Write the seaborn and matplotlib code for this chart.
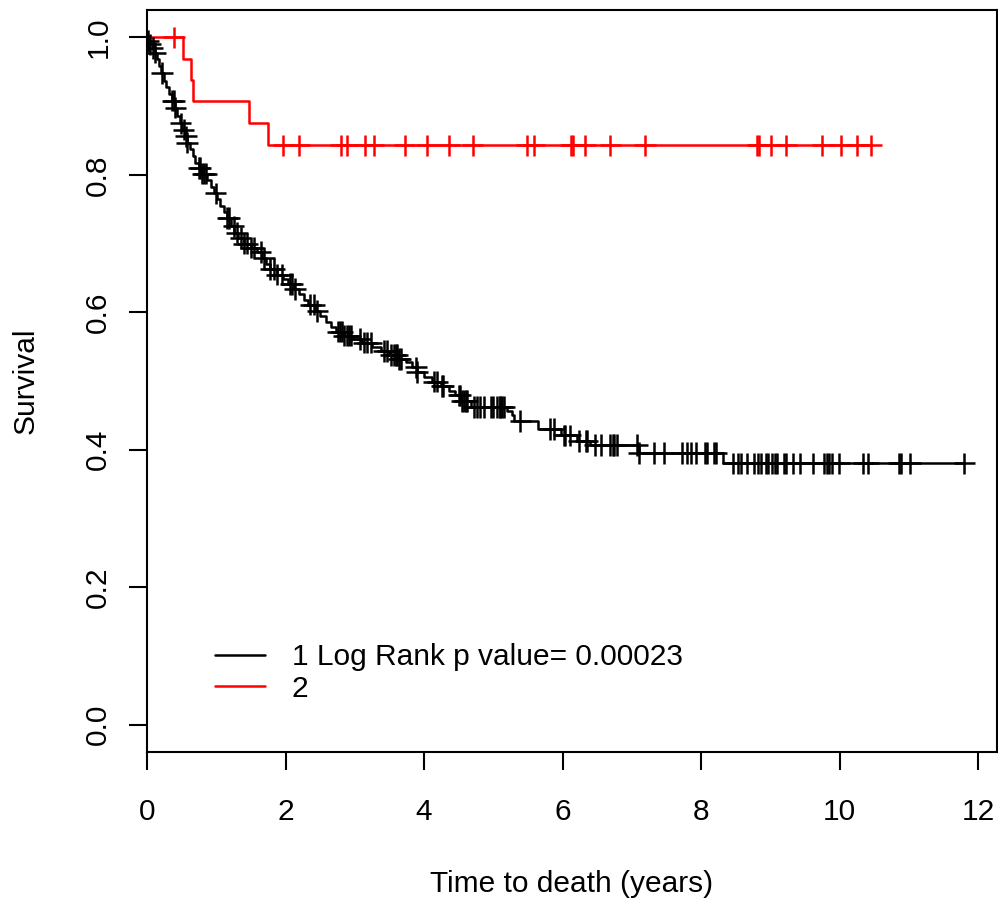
import numpy as np
import pandas as pd
import matplotlib
matplotlib.use("Agg")
import matplotlib.pyplot as plt
import seaborn as sns

# ---------------- data ----------------
black_time = [0.00, 0.02, 0.05, 0.08, 0.11, 0.14, 0.17, 0.20, 0.24, 0.28, 0.32, 0.36,
              0.40, 0.44, 0.48, 0.51, 0.55, 0.58, 0.62, 0.66, 0.70, 0.75, 0.80, 0.86,
              0.92, 0.97, 1.01, 1.06, 1.11, 1.16, 1.21, 1.26, 1.32, 1.40, 1.50, 1.59,
              1.66, 1.72, 1.78, 1.87, 1.96, 2.04, 2.12, 2.20, 2.27, 2.33, 2.42, 2.50,
              2.58, 2.65, 2.73, 2.84, 2.98, 3.10, 3.25, 3.38, 3.50, 3.62, 3.74, 3.82,
              3.90, 4.00, 4.12, 4.24, 4.36, 4.45, 4.53, 4.67, 5.20, 5.27, 5.30, 5.64,
              5.97, 6.21, 6.40, 7.10, 8.32, 11.80]
black_surv = [1.000, 0.995, 0.990, 0.985, 0.978, 0.968, 0.958, 0.948, 0.937, 0.928, 0.918, 0.908,
              0.898, 0.886, 0.875, 0.866, 0.856, 0.847, 0.837, 0.827, 0.818, 0.810, 0.802, 0.793,
              0.783, 0.773, 0.765, 0.755, 0.746, 0.737, 0.725, 0.716, 0.708, 0.700, 0.694, 0.688,
              0.679, 0.670, 0.663, 0.655, 0.648, 0.641, 0.634, 0.626, 0.618, 0.611, 0.602, 0.594,
              0.586, 0.579, 0.572, 0.566, 0.561, 0.556, 0.550, 0.544, 0.538, 0.532, 0.527, 0.520,
              0.513, 0.506, 0.499, 0.493, 0.486, 0.479, 0.471, 0.462, 0.456, 0.450, 0.442, 0.430,
              0.421, 0.413, 0.407, 0.395, 0.380, 0.380]
black_censor = [0.02, 0.05, 0.08, 0.12, 0.22, 0.365, 0.39, 0.41, 0.485, 0.53, 0.56, 0.58,
                0.75, 0.77, 0.80, 0.82, 0.85, 0.99, 1.16, 1.18, 1.25, 1.30, 1.35, 1.40,
                1.45, 1.50, 1.54, 1.64, 1.69, 1.78, 1.83, 1.88, 1.95, 2.07, 2.095, 2.14,
                2.36, 2.41, 2.46, 2.75, 2.79, 2.82, 2.84, 2.89, 2.91, 2.94, 3.08, 3.13,
                3.18, 3.23, 3.42, 3.47, 3.52, 3.56, 3.59, 3.61, 3.64, 3.66, 3.88, 3.90,
                4.14, 4.19, 4.26, 4.275, 4.50, 4.52, 4.55, 4.57, 4.60, 4.62, 4.72, 4.77,
                4.81, 4.86, 4.96, 4.99, 5.05, 5.09, 5.10, 5.13, 5.15, 5.39, 5.82, 5.87,
                6.02, 6.04, 6.11, 6.23, 6.33, 6.35, 6.47, 6.55, 6.69, 6.72, 6.74, 6.79,
                7.07, 7.10, 7.32, 7.46, 7.72, 7.80, 7.86, 7.92, 8.05, 8.09, 8.18, 8.21,
                8.46, 8.53, 8.58, 8.66, 8.76, 8.82, 8.87, 8.93, 8.97, 9.02, 9.06, 9.10,
                9.20, 9.23, 9.33, 9.42, 9.62, 9.77, 9.81, 9.84, 9.89, 9.99, 10.34, 10.41,
                10.85, 10.88, 11.02, 11.80]

red_time = [0.00, 0.52, 0.64, 0.66, 1.47, 1.74, 10.45]
red_surv = [1.000, 0.968, 0.938, 0.907, 0.875, 0.843, 0.843]
red_censor = [0.39, 1.97, 2.20, 2.80, 2.89, 3.15, 3.27, 3.72, 4.04, 4.36, 4.70, 5.48,
              5.59, 6.12, 6.15, 6.32, 6.69, 7.19, 8.81, 8.83, 9.01, 9.23, 9.75, 10.02,
              10.25, 10.45]

group_labels = ["1 Log Rank p value= 0.00023", "2"]
group_colors = ["black", "red"]
x_ticks = [0, 2, 4, 6, 8, 10, 12]
y_ticks = [0.0, 0.2, 0.4, 0.6, 0.8, 1.0]
y_tick_labels = ["0.0", "0.2", "0.4", "0.6", "0.8", "1.0"]


def surv_at(times, surv, t):
    idx = np.searchsorted(np.asarray(times), np.asarray(t), side="right") - 1
    return np.asarray(surv)[idx]


curves = pd.concat([
    pd.DataFrame({"time": black_time, "surv": black_surv, "group": group_labels[0]}),
    pd.DataFrame({"time": red_time, "surv": red_surv, "group": group_labels[1]}),
], ignore_index=True)
censors = pd.concat([
    pd.DataFrame({"time": black_censor,
                  "surv": surv_at(black_time, black_surv, black_censor),
                  "group": group_labels[0]}),
    pd.DataFrame({"time": red_censor,
                  "surv": surv_at(red_time, red_surv, red_censor),
                  "group": group_labels[1]}),
], ignore_index=True)
palette = dict(zip(group_labels, group_colors))

# ---------------- figure ----------------
sns.set_style("ticks")
plt.rcParams["font.family"] = ["Liberation Sans", "DejaVu Sans"]
plt.rcParams["text.color"] = "black"
plt.rcParams["axes.labelcolor"] = "black"
FS = 21.5

fig = plt.figure(figsize=(9.98, 9.01), dpi=100)
ax = fig.add_axes([147 / 998, 1 - 752 / 901, (997 - 147) / 998, (752 - 10) / 901])

sns.lineplot(data=curves, x="time", y="surv", hue="group", palette=palette,
             hue_order=group_labels, estimator=None, sort=False,
             drawstyle="steps-post", linewidth=1.8, legend=False, ax=ax)
sns.scatterplot(data=censors, x="time", y="surv", hue="group", palette=palette,
                hue_order=group_labels, marker="+", s=240, linewidth=1.8,
                legend=False, ax=ax, zorder=3)

ax.set_xlim(0, 12.27)
ax.set_ylim(-0.04, 1.04)
ax.set_xticks(x_ticks)
ax.set_xticklabels([str(v) for v in x_ticks])
ax.set_yticks(y_ticks)
ax.set_yticklabels(y_tick_labels, rotation=90, va="center")

for s in ax.spines.values():
    s.set_visible(True)
    s.set_linewidth(1.5)
    s.set_color("black")

ax.tick_params(axis="both", direction="out", length=13, width=1.5,
               labelsize=FS, color="black", labelcolor="black")
ax.tick_params(axis="x", pad=20)
ax.tick_params(axis="y", pad=12)

ax.set_xlabel("Time to death (years)", fontsize=FS, va="center", color="black")
ax.xaxis.set_label_coords(0.5, (752 - 884) / 742)
ax.set_ylabel("Survival", fontsize=FS, va="center", color="black")
ax.yaxis.set_label_coords((26 - 147) / 850, 0.5)

handles = ax.lines[:2]
leg = ax.legend(handles, group_labels, frameon=False, fontsize=FS,
                loc="upper left", bbox_to_anchor=(215 / 998, 1 - 643 / 901),
                bbox_transform=fig.transFigure, borderpad=0, borderaxespad=0,
                handlelength=1.67, handletextpad=0.9, labelspacing=0.12)
for t in leg.get_texts():
    t.set_color("black")

fig.savefig("out.png", dpi=100)
